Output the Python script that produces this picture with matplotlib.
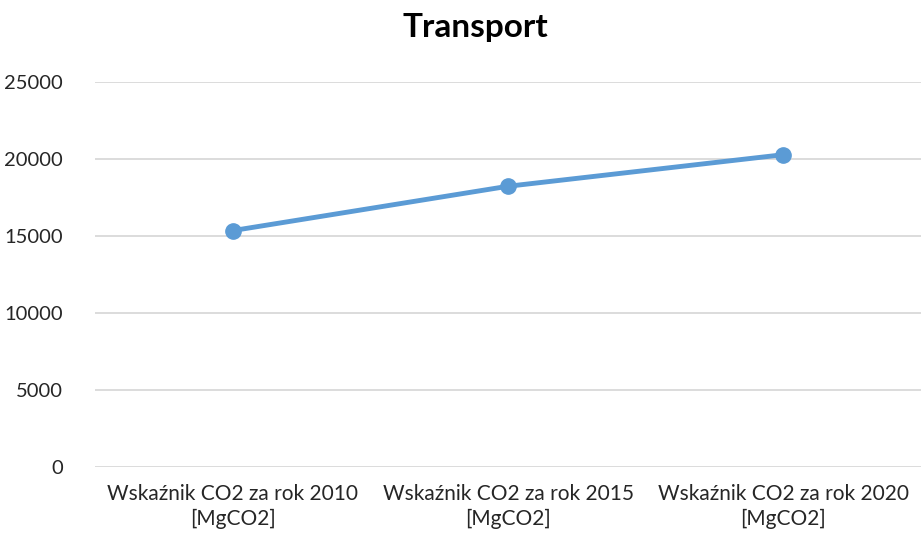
import matplotlib
matplotlib.use("Agg")
import matplotlib.pyplot as plt

categories = ["Wskaźnik CO2 za rok 2010\n[MgCO2]",
              "Wskaźnik CO2 za rok 2015\n[MgCO2]",
              "Wskaźnik CO2 za rok 2020\n[MgCO2]"]
values = [15350, 18230, 20280]
yticks = [0, 5000, 10000, 15000, 20000, 25000]
title = "Transport"

plt.rcParams['font.family'] = ['Lato', 'DejaVu Sans']

fig = plt.figure(figsize=(9.22, 5.40), dpi=100)
ax = fig.add_axes([95/922, 1-467/540, 826/922, (467-82)/540])

x = list(range(len(categories)))
ax.plot(x, values, color="#5B9BD5", linewidth=3.5, marker="o",
        markersize=11, solid_capstyle="round", zorder=3)

ax.set_xlim(-0.5, len(categories)-0.5)
ax.set_ylim(0, 25000)
ax.set_yticks(yticks)
ax.set_yticklabels([str(v) for v in yticks], fontsize=14.5, color="#262626")
ax.set_xticks(x)
ax.set_xticklabels(categories, fontsize=15, color="#262626", linespacing=1.3)
ax.tick_params(axis='both', length=0)
ax.tick_params(axis='y', pad=23)
ax.tick_params(axis='x', pad=12)
ax.grid(axis='y', color="#D9D9D9", linewidth=1.3)
ax.set_axisbelow(True)
for s in ax.spines.values():
    s.set_visible(False)

fig.text(475/922, 1-28/540, title, ha='center', va='center',
         fontsize=24, fontweight='bold', color="#000000")

fig.savefig("out.png", dpi=100, facecolor="white")
